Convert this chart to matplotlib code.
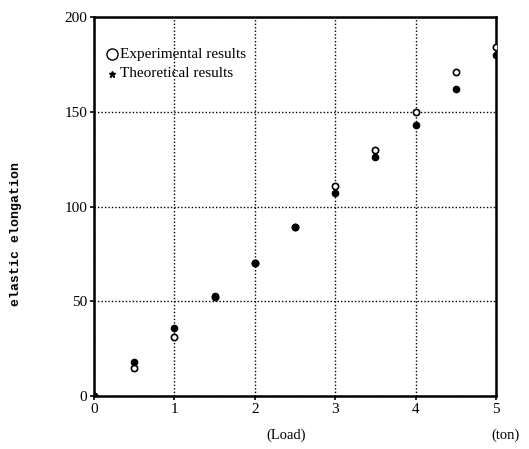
import matplotlib
matplotlib.use("Agg")
import matplotlib.pyplot as plt

# load in ton, elastic elongation
load = [0, 0.5, 1, 1.5, 2, 2.5, 3, 3.5, 4, 4.5, 5]
experimental = [0, 15, 31, 52, 70, 89, 111, 130, 150, 171, 184]
theoretical = [0, 18, 36, 53, 70, 89, 107, 126, 143, 162, 180]

xticks = [0, 1, 2, 3, 4, 5]
yticks = [0, 50, 100, 150, 200]

plt.rcParams['font.family'] = ['Liberation Serif', 'DejaVu Serif']

fig = plt.figure(figsize=(5.29, 4.49), dpi=100)
ax = fig.add_axes([0.1777, 0.118, 0.76, 0.844])

ax.plot(load, experimental, linestyle='none', marker='o', markersize=4.5,
        markerfacecolor='white', markeredgecolor='black', markeredgewidth=1.2,
        zorder=5)
ax.plot(load, theoretical, linestyle='none', marker='o', markersize=4.5,
        color='black', zorder=6)

ax.set_xlim(0, 5)
ax.set_ylim(0, 200)
ax.set_xticks(xticks)
ax.set_yticks(yticks)
ax.tick_params(labelsize=11, length=3, width=1.2, direction='out', pad=2)
ax.grid(True, color='black', linestyle=(0, (1, 1.5)), linewidth=1.0)

for s in ax.spines.values():
    s.set_linewidth(1.8)
    s.set_color('black')

# legend drawn as plain text
ax.plot([0.22], [180.5], marker='o', markersize=8, markerfacecolor='white',
        markeredgecolor='black', linestyle='none', clip_on=False)
ax.text(0.32, 180.5, 'Experimental results', fontsize=11, va='center')
ax.plot([0.22], [170], marker='*', markersize=5, color='black',
        linestyle='none')
ax.text(0.32, 170, 'Theoretical results', fontsize=11, va='center')

fig.text(0.03, 0.479, 'elastic elongation', rotation=90, fontsize=9.5,
         family='Liberation Mono', weight='bold', ha='center', va='center')
fig.text(0.54, 0.03, '(Load)', fontsize=10.5, ha='center', va='center')
fig.text(0.955, 0.03, '(ton)', fontsize=10.5, ha='center', va='center')

fig.savefig('out.png', dpi=100)
